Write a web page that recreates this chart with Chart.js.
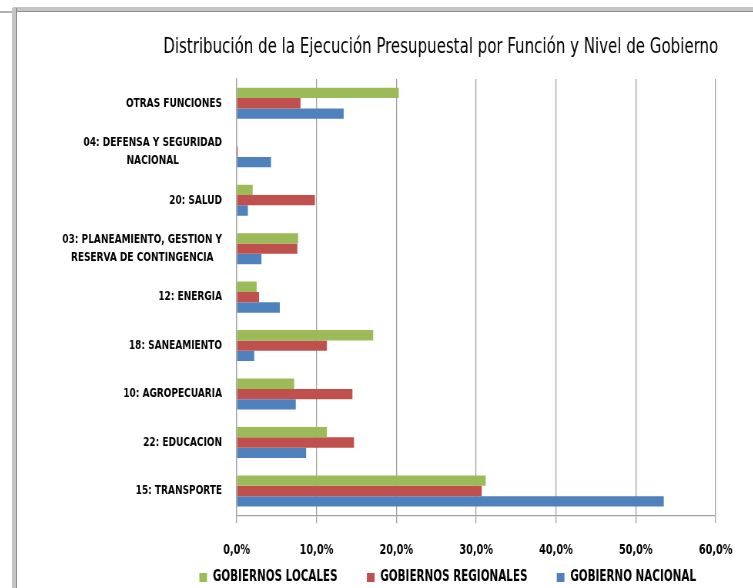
<!DOCTYPE html>
<html>
<head>
<meta charset="utf-8">
<script src="https://cdn.jsdelivr.net/npm/chart.js@4.4.1/dist/chart.umd.min.js"></script>
<style>
    html, body { margin: 0; padding: 0; background: #fff; overflow: hidden; width: 753px; height: 588px; }
    .frame-top { position: absolute; left: 13px; top: 7px; width: 740px; height: 4px; background: #c4c4c4; border-bottom: 1px solid #8e8e8e; }
    .frame-left { position: absolute; left: 12px; top: 8px; width: 4px; height: 580px; background: #c4c4c4; border-right: 1px solid #8e8e8e; }
    .frame-corner { position: absolute; left: 0; top: 11px; width: 12px; height: 2px; background: #b0b0b0; }
    /* the original picture is squeezed sideways, so the chart is laid out wide and compressed */
    #wrap { position: absolute; left: 18px; top: 12px; width: 1104px; height: 631px; transform: scaleX(0.77); transform-origin: 0 0; }
</style>
</head>
<body>
<div class="frame-top"></div>
<div class="frame-left"></div>
<div class="frame-corner"></div>
<div id="wrap"><canvas id="chart"></canvas></div>

<script>
// --- DATA ---
const categories = [
    ['OTRAS FUNCIONES'],
    ['04: DEFENSA Y SEGURIDAD', 'NACIONAL'],
    ['20: SALUD'],
    ['03: PLANEAMIENTO, GESTION Y', 'RESERVA DE CONTINGENCIA'],
    ['12: ENERGIA'],
    ['18: SANEAMIENTO'],
    ['10: AGROPECUARIA'],
    ['22: EDUCACION'],
    ['15: TRANSPORTE']
];
const gobiernosLocales = [20.3, 0.0, 2.0, 7.7, 2.5, 17.1, 7.2, 11.3, 31.2];
const gobiernosRegionales = [8.0, 0.15, 9.8, 7.6, 2.8, 11.3, 14.5, 14.7, 30.7];
const gobiernoNacional = [13.4, 4.3, 1.4, 3.1, 5.4, 2.2, 7.4, 8.7, 53.5];
const xTicks = [0, 10, 20, 30, 40, 50, 60];

const FONT = "'DejaVu Sans Condensed', 'DejaVu Sans', sans-serif";

// --- CATEGORY LABELS (lines centred, block right-aligned, like Excel) ---
const categoryLabels = {
    id: 'categoryLabels',
    afterDraw(chart) {
        const yScale = chart.scales.y;
        const ctx = chart.ctx;
        const right = yScale.right - 19;
        const lineH = 18;
        ctx.save();
        ctx.font = 'bold 13px ' + FONT;
        ctx.fillStyle = '#000';
        ctx.textAlign = 'center';
        ctx.textBaseline = 'middle';
        categories.forEach((lines, i) => {
            const yc = yScale.getPixelForTick(i);
            const maxW = Math.max(...lines.map(l => ctx.measureText(l).width));
            const xc = right - maxW / 2;
            lines.forEach((line, k) => {
                ctx.fillText(line, xc, yc + (k - (lines.length - 1) / 2) * lineH);
            });
        });
        ctx.restore();
    }
};

// the original chart runs past the right edge of the picture, so title and legend
// sit right of the visible centre; the legend also hugs the axis labels
const boxNudge = {
    id: 'boxNudge',
    afterLayout(chart) {
        chart.titleBlock.left += 96;
        chart.titleBlock.right += 96;
        chart.legend.left += 105;
        chart.legend.right += 105;
        chart.legend.top -= 46;
        chart.legend.bottom -= 46;
    }
};

const ctx = document.getElementById('chart').getContext('2d');
new Chart(ctx, {
    type: 'bar',
    data: {
        labels: categories,
        datasets: [
            { label: 'GOBIERNOS LOCALES', data: gobiernosLocales, backgroundColor: '#9bbb59' },
            { label: 'GOBIERNOS REGIONALES', data: gobiernosRegionales, backgroundColor: '#c0504d' },
            { label: 'GOBIERNO NACIONAL', data: gobiernoNacional, backgroundColor: '#4f81bd' }
        ]
    },
    options: {
        indexAxis: 'y',
        responsive: true,
        maintainAspectRatio: false,
        animation: false,
        categoryPercentage: 0.64,
        barPercentage: 1.0,
        layout: { padding: { left: 0, right: 198, top: 0, bottom: 2 } },
        plugins: {
            title: {
                display: true,
                text: 'Distribución de la Ejecución Presupuestal por Función y Nivel de Gobierno',
                color: '#000',
                font: { family: FONT, size: 21.7, weight: 'normal' },
                padding: { top: 22, bottom: 19 }
            },
            legend: {
                position: 'bottom',
                labels: {
                    color: '#000',
                    font: { family: FONT, size: 15, weight: 'bold' },
                    boxWidth: 10,
                    boxHeight: 9,
                    padding: 38
                }
            },
            tooltip: { enabled: false }
        },
        scales: {
            x: {
                min: 0,
                max: 60,
                afterBuildTicks: (scale) => { scale.ticks = xTicks.map(v => ({ value: v })); },
                ticks: {
                    color: '#000',
                    font: { family: FONT, size: 14, weight: 'bold' },
                    padding: 19,
                    callback: (v) => v.toFixed(1).replace('.', ',') + '%'
                },
                grid: { color: '#a0a0a0', lineWidth: 1.3, tickLength: 8, drawTicks: true },
                border: { display: true, color: '#a0a0a0', width: 1.3 }
            },
            y: {
                afterFit: (scale) => { scale.width = 284; },
                ticks: { color: 'rgba(0,0,0,0)', font: { family: FONT, size: 13, weight: 'bold' } },
                grid: { display: false },
                border: { display: true, color: '#a0a0a0', width: 1.3 }
            }
        }
    },
    plugins: [categoryLabels, boxNudge]
});
</script>
</body>
</html>
